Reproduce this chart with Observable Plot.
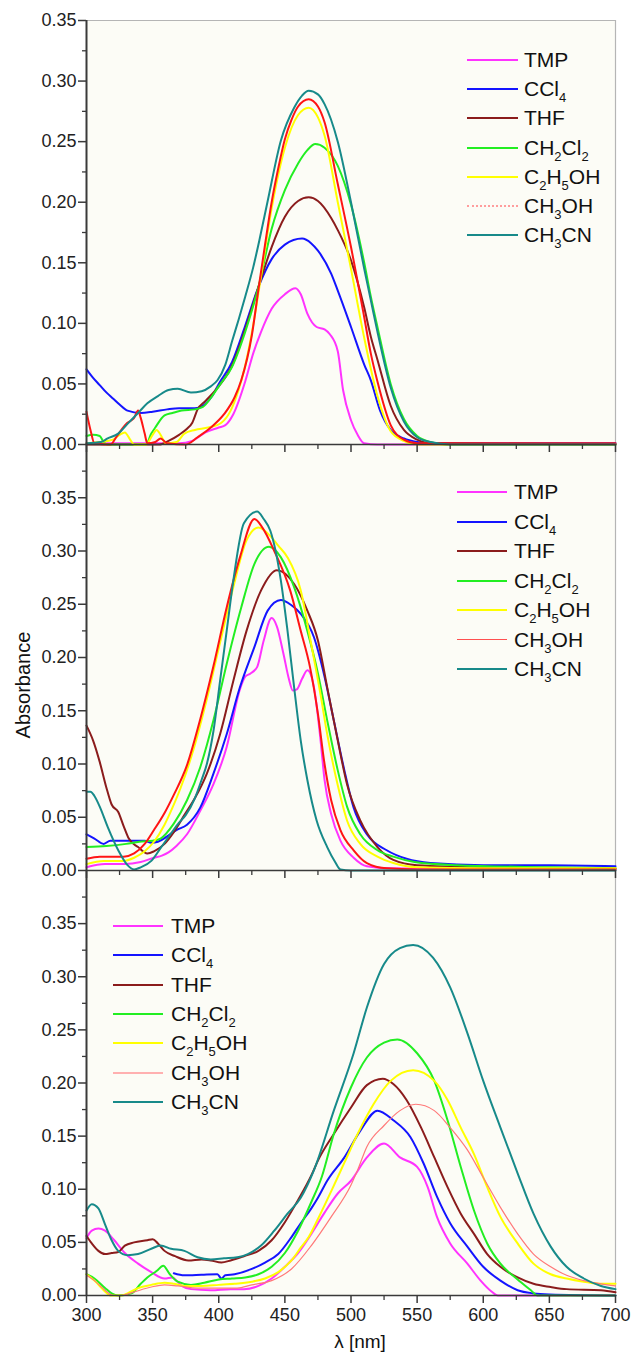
<!DOCTYPE html>
<html><head><meta charset="utf-8">
<script src="https://cdn.jsdelivr.net/npm/d3@7"></script>
<script src="https://cdn.jsdelivr.net/npm/@observablehq/plot@0.6"></script>
<style>
body{margin:0;background:#fff;}
#wrap{position:relative;width:632px;height:1354px;font-family:"Liberation Sans",Arial,sans-serif;color:#111;overflow:hidden;}
.panel{position:absolute;left:0;}
.leg{position:absolute;display:flex;align-items:center;height:26px;font-size:21px;white-space:nowrap;z-index:10;}
.leg .sw{display:inline-block;height:0;}
sub{font-size:13px;vertical-align:-6px;line-height:0;}
.lab{position:absolute;white-space:nowrap;z-index:10;}
</style></head><body><div id="wrap"></div>
<script>
// ---------- data ----------
const seriesNames = ["TMP","CCl4","THF","CH2Cl2","C2H5OH","CH3OH","CH3CN"];
const seriesLabels = ["TMP","CCl<sub>4</sub>","THF","CH<sub>2</sub>Cl<sub>2</sub>","C<sub>2</sub>H<sub>5</sub>OH","CH<sub>3</sub>OH","CH<sub>3</sub>CN"];
const xMajor = [300,350,400,450,500,550,600,650,700];
const xMinor = [325,375,425,475,525,575,625,675];
const yMajor = [0,0.05,0.10,0.15,0.20,0.25,0.30,0.35];
const yMinor1 = [0.025,0.075,0.125,0.175,0.225,0.275,0.325];
const yMinor2 = [0.025,0.075,0.125,0.175,0.225,0.275,0.325,0.375];

// panel 1 (top)
const tmp1 = [[300,0.001],[340,0.001],[370,0.001],[380,0.003],[390,0.010],[400,0.014],[405,0.016],[411,0.025],[420,0.052],[426,0.075],[432,0.093],[440,0.112],[450,0.124],[458,0.129],[462,0.124],[467,0.108],[474,0.097],[480,0.095],[484,0.091],[490,0.077],[494,0.045],[500,0.020],[505,0.008],[510,0.001],[520,0],[700,0]];
const ccl1 = [[300,0.062],[305,0.055],[310,0.049],[315,0.043],[320,0.038],[325,0.033],[331,0.028],[341,0.026],[350,0.027],[361,0.029],[370,0.030],[382,0.030],[388,0.032],[395,0.040],[400,0.050],[410,0.068],[420,0.098],[430,0.130],[440,0.153],[450,0.165],[463,0.170],[470,0.166],[475,0.160],[485,0.141],[490,0.127],[500,0.097],[510,0.066],[515,0.053],[522,0.028],[530,0.012],[540,0.005],[550,0.002],[560,0.001],[700,0.001]];
const thf1 = [[300,0],[355,0],[362,0.003],[370,0.008],[376,0.013],[380,0.018],[384,0.029],[390,0.036],[400,0.048],[410,0.065],[420,0.095],[430,0.130],[440,0.163],[450,0.188],[460,0.201],[468,0.204],[475,0.201],[485,0.187],[490,0.177],[500,0.152],[510,0.113],[515,0.089],[520,0.070],[530,0.032],[540,0.012],[550,0.004],[560,0.001],[700,0]];
const dcm1 = [[300,0.007],[305,0.008],[310,0.007],[313,0.002],[316,0],[345,0],[349,0.009],[352,0.014],[359,0.024],[365,0.026],[372,0.028],[382,0.029],[388,0.031],[395,0.040],[400,0.048],[410,0.064],[420,0.093],[430,0.130],[440,0.178],[450,0.210],[460,0.232],[467,0.243],[473,0.248],[480,0.245],[490,0.230],[500,0.198],[510,0.150],[515,0.122],[520,0.097],[530,0.050],[540,0.021],[550,0.007],[560,0.002],[570,0],[700,0]];
const eth1 = [[300,0.001],[310,0.002],[320,0.004],[325,0.008],[329,0.010],[333,0.004],[336,0],[345,0],[350,0.008],[353,0.012],[356,0.008],[360,0.001],[368,0.002],[374,0.009],[382,0.012],[392,0.014],[402,0.018],[409,0.028],[415,0.045],[420,0.065],[425,0.092],[430,0.125],[440,0.195],[450,0.245],[460,0.272],[468,0.278],[475,0.270],[480,0.255],[490,0.200],[500,0.145],[510,0.088],[520,0.040],[530,0.011],[540,0.003],[550,0],[700,0]];
const met1 = [[300,0.027],[303,0.012],[306,0.001],[318,0],[323,0.007],[330,0.017],[334,0.020],[336,0.022],[339,0.028],[341,0.022],[344,0.009],[346,0.001],[352,0.002],[356,0.005],[361,0.001],[375,0],[384,0.006],[394,0.014],[404,0.025],[412,0.039],[417,0.053],[425,0.090],[430,0.128],[435,0.165],[440,0.200],[445,0.228],[450,0.252],[455,0.268],[460,0.279],[468,0.285],[475,0.279],[480,0.266],[490,0.215],[500,0.163],[510,0.105],[515,0.075],[520,0.052],[530,0.016],[540,0.004],[550,0.001],[700,0.001]];
const acn1 = [[300,0.001],[311,0.002],[316,0.005],[324,0.009],[331,0.017],[339,0.026],[346,0.034],[354,0.040],[362,0.045],[369,0.046],[379,0.043],[387,0.044],[394,0.048],[399,0.053],[405,0.066],[410,0.085],[415,0.103],[420,0.122],[426,0.146],[431,0.170],[437,0.201],[447,0.251],[457,0.278],[463,0.288],[468,0.292],[475,0.289],[480,0.281],[490,0.250],[500,0.200],[510,0.145],[515,0.119],[520,0.093],[530,0.047],[540,0.019],[550,0.006],[560,0.002],[575,0],[700,0]];

// panel 2 (middle)
const tmp2 = [[300,0.003],[314,0.006],[329,0.006],[341,0.008],[351,0.012],[357,0.014],[362,0.017],[368,0.023],[376,0.034],[386,0.056],[396,0.081],[406,0.116],[416,0.170],[420,0.182],[424,0.185],[429,0.191],[434,0.216],[440,0.237],[444,0.229],[449,0.203],[453,0.180],[456,0.169],[459,0.170],[463,0.180],[467,0.188],[472,0.172],[477,0.122],[480,0.085],[485,0.053],[492,0.028],[502,0.012],[512,0.004],[530,0.002],[600,0.001],[700,0.001]];
const ccl2 = [[300,0.034],[306,0.030],[313,0.025],[318,0.028],[334,0.028],[344,0.028],[349,0.026],[354,0.027],[361,0.032],[368,0.038],[376,0.043],[386,0.059],[396,0.091],[406,0.128],[416,0.172],[427,0.210],[437,0.244],[447,0.254],[455,0.249],[462,0.241],[472,0.219],[480,0.182],[487,0.141],[495,0.094],[502,0.059],[512,0.034],[527,0.019],[542,0.011],[560,0.007],[600,0.005],[650,0.005],[700,0.004]];
const thf2 = [[300,0.136],[305,0.122],[310,0.102],[315,0.078],[319,0.062],[324,0.055],[328,0.042],[332,0.030],[339,0.022],[346,0.016],[351,0.018],[359,0.025],[366,0.036],[374,0.052],[382,0.068],[391,0.091],[401,0.128],[411,0.178],[421,0.225],[432,0.263],[444,0.282],[457,0.269],[467,0.244],[475,0.216],[482,0.172],[490,0.122],[497,0.081],[507,0.047],[520,0.022],[532,0.010],[550,0.005],[600,0.003],[700,0.002]];
const dcm2 = [[300,0.022],[315,0.023],[330,0.025],[340,0.027],[350,0.028],[356,0.030],[366,0.044],[376,0.066],[386,0.097],[396,0.141],[406,0.194],[417,0.247],[427,0.288],[438,0.304],[447,0.294],[457,0.266],[467,0.225],[475,0.185],[482,0.141],[490,0.094],[497,0.060],[507,0.034],[520,0.019],[532,0.013],[548,0.008],[580,0.005],[650,0.003],[700,0.002]];
const eth2 = [[300,0.006],[313,0.009],[328,0.009],[336,0.012],[344,0.018],[351,0.027],[359,0.043],[365,0.059],[371,0.077],[381,0.114],[391,0.161],[401,0.214],[411,0.266],[421,0.310],[430,0.322],[439,0.314],[445,0.305],[452,0.294],[462,0.263],[470,0.212],[477,0.165],[482,0.128],[490,0.080],[497,0.047],[507,0.025],[520,0.013],[532,0.007],[550,0.003],[600,0.002],[700,0.002]];
const met2 = [[300,0.011],[310,0.013],[320,0.013],[328,0.013],[336,0.016],[344,0.025],[351,0.038],[359,0.054],[366,0.071],[376,0.099],[386,0.142],[396,0.192],[406,0.247],[416,0.294],[427,0.330],[433,0.322],[442,0.300],[454,0.263],[462,0.225],[469,0.191],[475,0.147],[480,0.100],[485,0.066],[492,0.038],[502,0.019],[512,0.007],[527,0.002],[550,0.001],[700,0.001]];
const acn2 = [[300,0.074],[303,0.074],[306,0.070],[310,0.060],[316,0.041],[324,0.019],[331,0.005],[336,0.001],[341,0.003],[349,0.009],[356,0.021],[364,0.035],[370,0.045],[375,0.052],[382,0.068],[387,0.085],[391,0.100],[396,0.131],[401,0.178],[406,0.225],[411,0.272],[419,0.326],[429,0.337],[434,0.330],[439,0.319],[447,0.272],[452,0.225],[457,0.172],[462,0.122],[467,0.085],[474,0.047],[482,0.022],[488,0.008],[492,0.001],[500,0],[700,0]];

// panel 3 (bottom)
const tmp3 = [[300,0.054],[304,0.061],[309,0.063],[314,0.061],[321,0.052],[329,0.040],[339,0.030],[349,0.022],[359,0.016],[365,0.017],[368,0.014],[372,0.009],[379,0.006],[394,0.005],[409,0.006],[419,0.006],[430,0.009],[440,0.016],[450,0.027],[460,0.040],[470,0.058],[480,0.078],[490,0.096],[500,0.108],[512,0.130],[525,0.143],[537,0.130],[550,0.121],[558,0.102],[565,0.074],[575,0.049],[588,0.030],[598,0.014],[606,0.004],[611,0],[700,0]];
const ccl3 = [[366,0.021],[374,0.019],[387,0.0195],[399,0.020],[402,0.016],[405,0.019],[412,0.020],[425,0.025],[435,0.031],[445,0.039],[455,0.055],[462,0.068],[470,0.082],[475,0.092],[482,0.108],[495,0.130],[507,0.155],[520,0.174],[532,0.165],[545,0.149],[555,0.124],[565,0.093],[575,0.068],[588,0.046],[600,0.027],[613,0.014],[626,0.005],[638,0.002],[650,0.001],[700,0]];
const thf3 = [[300,0.056],[304,0.049],[309,0.042],[314,0.039],[319,0.040],[324,0.041],[329,0.047],[336,0.050],[346,0.052],[350,0.053],[354,0.049],[359,0.042],[367,0.037],[377,0.033],[387,0.034],[394,0.033],[402,0.031],[409,0.033],[419,0.037],[430,0.042],[440,0.052],[450,0.069],[460,0.090],[470,0.113],[475,0.127],[487,0.152],[500,0.177],[512,0.198],[524,0.204],[532,0.199],[542,0.184],[553,0.158],[563,0.130],[573,0.102],[583,0.077],[593,0.058],[603,0.039],[613,0.027],[626,0.017],[638,0.011],[651,0.008],[663,0.006],[689,0.005],[700,0.003]];
const dcm3 = [[300,0.020],[306,0.016],[314,0.007],[319,0.002],[324,0],[334,0.002],[341,0.011],[346,0.017],[353,0.023],[358,0.028],[363,0.020],[369,0.013],[379,0.010],[389,0.012],[400,0.015],[410,0.016],[420,0.017],[430,0.020],[440,0.027],[450,0.040],[460,0.061],[470,0.088],[478,0.112],[487,0.152],[500,0.196],[512,0.224],[525,0.238],[535,0.241],[550,0.228],[563,0.202],[573,0.165],[583,0.121],[593,0.080],[603,0.049],[613,0.030],[626,0.015],[636,0.005],[641,0],[700,0]];
const eth3 = [[300,0.020],[306,0.014],[313,0.005],[318,0],[326,0],[331,0.002],[339,0.007],[349,0.010],[359,0.012],[366,0.011],[374,0.009],[387,0.009],[400,0.010],[412,0.011],[425,0.013],[435,0.016],[445,0.022],[455,0.033],[462,0.045],[468,0.055],[475,0.072],[485,0.098],[495,0.125],[505,0.152],[517,0.180],[530,0.202],[547,0.212],[563,0.202],[573,0.184],[583,0.158],[593,0.133],[603,0.102],[613,0.074],[626,0.049],[638,0.030],[651,0.020],[663,0.016],[676,0.013],[689,0.011],[700,0.011]];
const met3 = [[300,0.019],[306,0.014],[314,0.005],[320,0],[326,0],[335,0.003],[349,0.008],[359,0.010],[369,0.009],[384,0.007],[400,0.007],[414,0.007],[425,0.010],[440,0.014],[455,0.025],[470,0.047],[485,0.074],[500,0.104],[505,0.118],[512,0.140],[525,0.160],[537,0.174],[549,0.180],[563,0.174],[575,0.158],[588,0.137],[600,0.111],[613,0.083],[626,0.058],[638,0.039],[651,0.027],[663,0.019],[676,0.014],[689,0.011],[700,0.009]];
const acn3 = [[300,0.080],[304,0.086],[309,0.082],[314,0.067],[319,0.052],[324,0.042],[331,0.038],[339,0.039],[349,0.044],[356,0.047],[364,0.044],[374,0.042],[384,0.036],[394,0.034],[404,0.035],[414,0.036],[422,0.039],[432,0.047],[442,0.061],[452,0.077],[462,0.092],[472,0.118],[487,0.174],[502,0.228],[512,0.271],[525,0.312],[537,0.327],[547,0.330],[562,0.318],[575,0.290],[588,0.247],[600,0.202],[613,0.158],[626,0.115],[638,0.077],[651,0.046],[663,0.027],[676,0.016],[689,0.009],[700,0.006]];

// ---------- styles ----------
const baseColors = ["#ff33ff","#1414ff","#8b1c1c","#22ee22","#ffff00","#ff1414","#178a8a"];
const panels = [
  {top:0, mt:20, h:424, mb:12, ymax:0.35, yMinor:yMinor1, data:[tmp1,ccl1,thf1,dcm1,eth1,met1,acn1],
   metColor:"#ff1414", metWidth:2, topBorder:true, xLabels:false, z:3,
   legend:{x:467, w:51, tx:524, y0:60, dy:29.2, met:"2px dotted #ff9d9d"}},
  {top:434, mt:10, h:426, mb:12, ymax:0.40, yMinor:yMinor2, data:[tmp2,ccl2,thf2,dcm2,eth2,met2,acn2],
   metColor:"#ff1414", metWidth:2, topBorder:false, xLabels:false, z:2,
   legend:{x:457, w:50, tx:514, y0:492, dy:29.5, met:"1px solid #ff5050"}},
  {top:860, mt:10, h:425, mb:59, ymax:0.40, yMinor:yMinor2, data:[tmp3,ccl3,thf3,dcm3,eth3,met3,acn3],
   metColor:"#ff7878", metWidth:1.2, topBorder:false, xLabels:true, z:1,
   legend:{x:113, w:50, tx:171, y0:926, dy:29.3, met:"2px solid #ffb0b0"}}
];

const wrap = document.getElementById("wrap");
const fmt = d3.format(".2f");

panels.forEach((p, pi) => {
  const marks = [Plot.frame({fill:"#fcfcf6", stroke:null})];
  if (p.topBorder) marks.push(Plot.ruleY([p.ymax], {stroke:"#b5b5b5", strokeWidth:1.2}));
  marks.push(Plot.ruleX([700], {stroke:"#b5b5b5", strokeWidth:1.2}));
  p.data.forEach((arr, si) => {
    const rows = arr.map(([x, y]) => ({x, y}));
    const isMet = si === 5;
    marks.push(Plot.line(rows, {x:"x", y:"y", curve:"monotone-x",
      stroke: isMet ? p.metColor : baseColors[si],
      strokeWidth: isMet ? p.metWidth : 2}));
  });
  marks.push(Plot.ruleX([300], {stroke:"#3a3a3a", strokeWidth:2}));
  marks.push(Plot.ruleY([0], {stroke:"#3a3a3a", strokeWidth:1.6}));
  marks.push(Plot.axisY(yMajor, {tickSize:8, tickPadding:2, tickFormat:fmt, fontSize:18, stroke:"#3a3a3a", strokeWidth:1.5, fill:"#222", label:null}));
  marks.push(Plot.axisY(p.yMinor, {tickSize:4, tickFormat:() => "", stroke:"#3a3a3a", strokeWidth:1.3, label:null}));
  marks.push(Plot.axisX(xMajor, {tickSize:8, tickPadding:5, tickFormat: p.xLabels ? (d => String(d)) : (() => ""), fontSize:18, stroke:"#3a3a3a", strokeWidth:1.5, fill:"#222", label:null}));
  marks.push(Plot.axisX(xMinor, {tickSize:5, tickFormat:() => "", stroke:"#3a3a3a", strokeWidth:1.3, label:null}));

  const svg = Plot.plot({
    width:632, height:p.mt + p.h + p.mb,
    marginLeft:86, marginRight:17, marginTop:p.mt, marginBottom:p.mb,
    x:{domain:[300,700]}, y:{domain:[0,p.ymax]},
    style:{background:"transparent", overflow:"visible", fontFamily:'"Liberation Sans", Arial, sans-serif', color:"#222"},
    marks
  });
  const holder = document.createElement("div");
  holder.className = "panel";
  holder.style.top = p.top + "px";
  holder.style.zIndex = p.z;
  holder.appendChild(svg);
  wrap.appendChild(holder);

  // legend
  const L = p.legend;
  seriesLabels.forEach((lab, si) => {
    const row = document.createElement("div");
    row.className = "leg";
    row.style.left = L.x + "px";
    row.style.top = (L.y0 + si * L.dy - 13) + "px";
    const sw = document.createElement("span");
    sw.className = "sw";
    sw.style.width = L.w + "px";
    sw.style.marginRight = (L.tx - L.x - L.w) + "px";
    sw.style.borderTop = si === 5 ? L.met : ("2px solid " + baseColors[si]);
    const t = document.createElement("span");
    t.innerHTML = lab;
    row.appendChild(sw); row.appendChild(t);
    wrap.appendChild(row);
  });
});

// axis titles
const yl = document.createElement("div");
yl.className = "lab";
yl.textContent = "Absorbance";
yl.style.cssText += "left:23px;top:685px;font-size:20px;transform:translate(-50%,-50%) rotate(-90deg);";
wrap.appendChild(yl);
const xl = document.createElement("div");
xl.className = "lab";
xl.textContent = "λ [nm]";
xl.style.cssText += "left:360px;top:1342px;font-size:19px;transform:translate(-50%,-50%);";
wrap.appendChild(xl);
</script></body></html>
